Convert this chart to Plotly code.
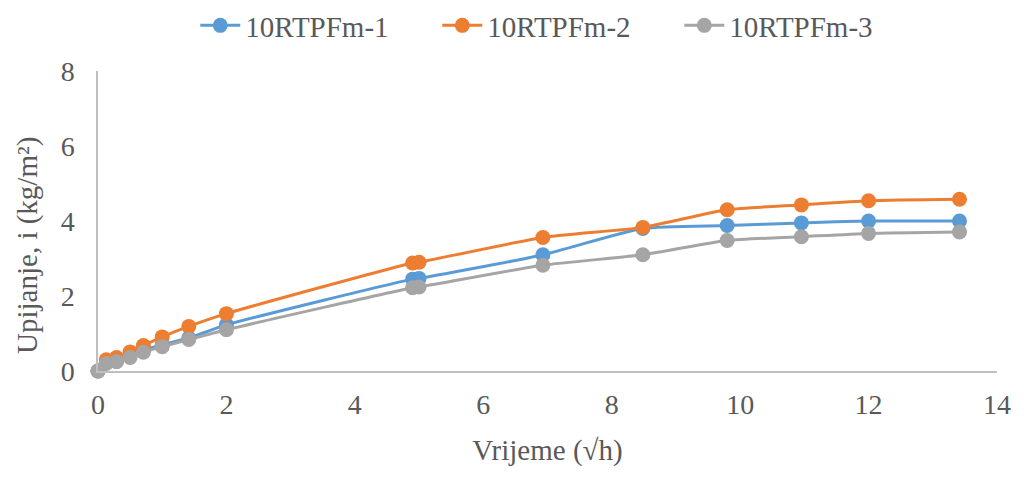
import plotly.graph_objects as go

x_vals = [0, 0.129, 0.289, 0.5, 0.707, 1.0, 1.414, 2.0, 4.899, 5.0, 6.928, 8.485, 9.798, 10.954, 12.0, 13.416]
s1 = [0.0, 0.22, 0.30, 0.42, 0.55, 0.70, 0.88, 1.23, 2.45, 2.47, 3.10, 3.80, 3.88, 3.95, 4.00, 4.00]
s2 = [0.0, 0.30, 0.36, 0.51, 0.68, 0.91, 1.19, 1.53, 2.88, 2.90, 3.56, 3.83, 4.30, 4.43, 4.54, 4.58]
s3 = [0.0, 0.20, 0.25, 0.36, 0.50, 0.65, 0.84, 1.10, 2.22, 2.24, 2.82, 3.10, 3.48, 3.58, 3.67, 3.71]
names = ["10RTPFm-1", "10RTPFm-2", "10RTPFm-3"]
colors = ["#5B9BD5", "#ED7D31", "#A5A5A5"]

fig = go.Figure()
for name, ys, c in zip(names, [s1, s2, s3], colors):
    fig.add_trace(go.Scatter(
        x=x_vals, y=ys, name=name, mode="lines+markers",
        line=dict(color=c, width=3, shape="spline", smoothing=0.6),
        marker=dict(color=c, size=15), cliponaxis=False,
    ))

font_family = "Liberation Serif"
txt = "#595959"
fig.update_layout(
    width=1024, height=477,
    margin=dict(l=98, r=27, t=71, b=106, autoexpand=False),
    paper_bgcolor="white", plot_bgcolor="white",
    font=dict(family=font_family, size=28, color=txt),
    legend=dict(orientation="h", x=0.512, xanchor="center", y=1.0, yanchor="top",
                yref="container", font=dict(family=font_family, size=29, color=txt),
                traceorder="normal", itemwidth=40, entrywidth=187, entrywidthmode="pixels"),
    showlegend=True,
)
fig.update_xaxes(
    range=[0, 14], dtick=2, showgrid=False, zeroline=False,
    showline=True, linecolor="#BFBFBF", linewidth=1.5,
    ticks="outside", ticklen=8, tickcolor="rgba(0,0,0,0)",
    tickfont=dict(family=font_family, size=28, color=txt),
    title=dict(text="Vrijeme (√h)", font=dict(family=font_family, size=29, color=txt), standoff=20),
)
fig.update_yaxes(
    range=[0, 8], dtick=2, showgrid=False, zeroline=False,
    showline=True, linecolor="#BFBFBF", linewidth=1.5,
    ticks="outside", ticklen=16, tickcolor="rgba(0,0,0,0)",
    tickfont=dict(family=font_family, size=28, color=txt),
)
fig.add_annotation(
    text="Upijanje, i (kg/m²)", textangle=-90,
    xref="paper", yref="paper", x=-0.079, y=0.42,
    xanchor="center", yanchor="middle", showarrow=False,
    font=dict(family=font_family, size=29, color=txt),
)
fig.write_html("out.html")
